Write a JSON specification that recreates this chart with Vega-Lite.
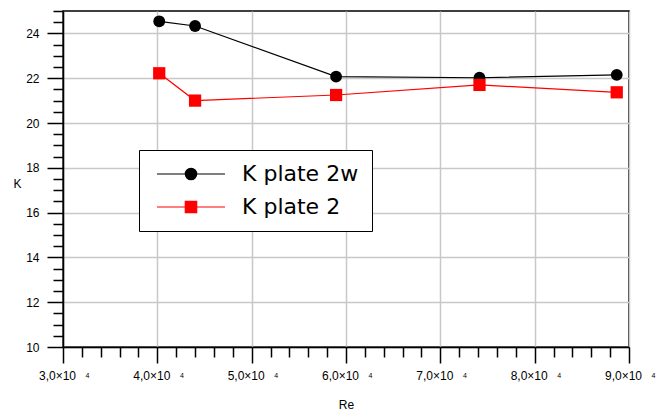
{
  "$schema": "https://vega.github.io/schema/vega-lite/v6.json",
  "width": 566,
  "height": 336,
  "autosize": "none",
  "padding": {"left": 63, "top": 11, "right": 35, "bottom": 66},
  "background": "white",
  "config": {"view": {"stroke": "black", "strokeWidth": 1.5}, "font": "Liberation Sans"},
  "data": {"values": [
    {"series": "K plate 2w", "Re": 40200, "K": 24.54},
    {"series": "K plate 2w", "Re": 44000, "K": 24.33},
    {"series": "K plate 2w", "Re": 58950, "K": 22.07},
    {"series": "K plate 2w", "Re": 74150, "K": 22.02},
    {"series": "K plate 2w", "Re": 88700, "K": 22.15},
    {"series": "K plate 2", "Re": 40200, "K": 22.22},
    {"series": "K plate 2", "Re": 44000, "K": 21.0},
    {"series": "K plate 2", "Re": 58950, "K": 21.25},
    {"series": "K plate 2", "Re": 74150, "K": 21.7},
    {"series": "K plate 2", "Re": 88700, "K": 21.37}
  ]},
  "layer": [
    {
      "mark": {"type": "point", "opacity": 0},
      "encoding": {
        "x": {"field": "Re", "type": "quantitative", "scale": {"domain": [30000, 90000], "nice": false, "zero": false},
          "axis": {"orient": "bottom", "values": [32000,34000,36000,38000,42000,44000,46000,48000,52000,54000,56000,58000,62000,64000,66000,68000,72000,74000,76000,78000,82000,84000,86000,88000],
            "labels": false, "domain": false, "grid": false, "title": null, "tickSize": 10, "tickWidth": 1.5, "tickColor": "black"}},
        "y": {"field": "K", "type": "quantitative", "scale": {"domain": [10, 25], "nice": false, "zero": false},
          "axis": {"orient": "left", "values": [10.5,11,11.5,12.5,13,13.5,14.5,15,15.5,16.5,17,17.5,18.5,19,19.5,20.5,21,21.5,22.5,23,23.5,24.5,25],
            "labels": false, "domain": false, "grid": false, "title": null, "tickSize": 10, "tickWidth": 1.5, "tickColor": "black"}}
      }
    },
    {
      "mark": {"type": "point", "opacity": 0},
      "encoding": {
        "x": {"field": "Re", "type": "quantitative",
          "axis": {"orient": "bottom", "values": [30000,40000,50000,60000,70000,80000,90000],
            "labelExpr": "'4'", "labelFontSize": 7, "labelColor": "black", "labelOffset": 24, "labelFlush": false, "labelOverlap": false,
            "ticks": false, "tickSize": 0, "labelPadding": 24, "labelBaseline": "top",
            "domain": false, "grid": false, "title": null}},
        "y": {"field": "K", "type": "quantitative", "axis": null}
      }
    },
    {
      "mark": {"type": "line", "strokeWidth": 1.2},
      "encoding": {
        "x": {"field": "Re", "type": "quantitative",
          "axis": {"orient": "bottom", "values": [30000,40000,50000,60000,70000,80000,90000],
            "labelExpr": "replace(format(datum.value/10000, '.1f'), '.', ',') + '×10'",
            "labelFontSize": 12, "labelColor": "black", "labelPadding": 7, "labelFlush": false, "labelOffset": -6, "labelOverlap": false,
            "domainColor": "black", "domainWidth": 1.5, "tickSize": 16, "tickWidth": 1.5, "tickColor": "black",
            "grid": true, "gridColor": "#c8c8c8", "gridWidth": 1.5,
            "title": "Re", "titleFontSize": 12, "titleFontWeight": "normal", "titleColor": "black", "titlePadding": 18}},
        "y": {"field": "K", "type": "quantitative",
          "axis": {"orient": "left", "values": [10,12,14,16,18,20,22,24],
            "labelFontSize": 12, "labelColor": "black", "labelPadding": 8,
            "domainColor": "black", "domainWidth": 1.5, "tickSize": 16, "tickWidth": 1.5, "tickColor": "black",
            "grid": true, "gridColor": "#c8c8c8", "gridWidth": 1.5,
            "title": "K", "titleAngle": 0, "titleFontSize": 12, "titleFontWeight": "normal", "titleColor": "black",
            "titleX": -46, "titleY": 172, "titleAlign": "center", "titleBaseline": "middle"}},
        "color": {"field": "series", "type": "nominal",
          "scale": {"domain": ["K plate 2w", "K plate 2"], "range": ["black", "#ff0000"]},
          "legend": {"title": null, "orient": "none", "legendX": 76, "legendY": 139, "padding": 13,
            "strokeColor": "black", "fillColor": "white", "symbolSize": 144, "symbolStrokeWidth": 1.2,
            "symbolOffset": 28, "labelOffset": 40, "labelFontSize": 22, "labelFont": "DejaVu Sans", "labelColor": "black",
            "rowPadding": 11, "labelLimit": 300,
            "encode": {"symbols": {"update": {
              "shape": {"signal": "datum.value === 'K plate 2w' ? 'M-5.67,0H5.67M-0.95,0A0.95,0.95 0 1,0 0.95,0A0.95,0.95 0 1,0 -0.95,0Z' : 'M-5.67,0H5.67M-0.95,-0.95H0.95V0.95H-0.95Z'"},
              "fill": {"signal": "datum.value === 'K plate 2w' ? 'black' : '#ff0000'"},
              "stroke": {"signal": "datum.value === 'K plate 2w' ? 'black' : '#ff0000'"},
              "strokeWidth": {"value": 1.2},
              "opacity": {"value": 1}
            }}}}
        }
      }
    },
    {
      "transform": [{"filter": "datum.series === 'K plate 2w'"}],
      "mark": {"type": "point", "filled": true, "shape": "circle", "size": 140, "opacity": 1},
      "encoding": {
        "x": {"field": "Re", "type": "quantitative", "axis": null},
        "y": {"field": "K", "type": "quantitative", "axis": null},
        "color": {"field": "series", "type": "nominal"}
      }
    },
    {
      "transform": [{"filter": "datum.series === 'K plate 2'"}],
      "mark": {"type": "point", "filled": true, "shape": "square", "size": 150, "opacity": 1},
      "encoding": {
        "x": {"field": "Re", "type": "quantitative", "axis": null},
        "y": {"field": "K", "type": "quantitative", "axis": null},
        "color": {"field": "series", "type": "nominal"}
      }
    }
  ],
  "resolve": {"axis": {"x": "independent", "y": "independent"}}
}
